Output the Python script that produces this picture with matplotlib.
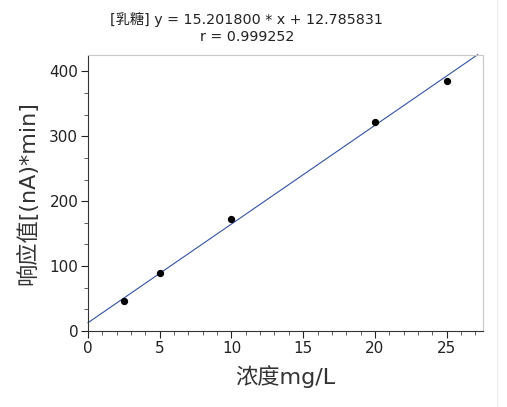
import numpy as np
import matplotlib
matplotlib.use('Agg')
import matplotlib.pyplot as plt
from matplotlib.ticker import MultipleLocator

plt.rcParams['font.family'] = ['DejaVu Sans', 'Noto Sans CJK SC']

# calibration data
conc = [2.5, 5, 10, 20, 25]
resp = [46.6, 88.7, 172.8, 322.0, 385.7]
slope = 15.201800
intercept = 12.785831
r_value = 0.999252

x_ticks = [0, 5, 10, 15, 20, 25]
y_ticks = [0, 100, 200, 300, 400]

fig = plt.figure(figsize=(5.07, 4.07), dpi=100)
ax = fig.add_axes([0.1736, 0.1867, 0.953 - 0.1736, 0.8656 - 0.1867])

xmax, ymax = 27.55, 425.7
# fitted line, clipped at the top of the plot
x_end = (ymax - intercept) / slope
xs = np.array([0, x_end])
ax.plot(xs, slope * xs + intercept, color='#3352a3', lw=0.8, clip_on=False)
ax.scatter(conc, resp, s=18, color='black', zorder=3)

ax.set_xlim(0, xmax)
ax.set_ylim(0, ymax)
ax.set_xticks(x_ticks)
ax.set_yticks(y_ticks)
ax.xaxis.set_minor_locator(MultipleLocator(1))
ax.yaxis.set_minor_locator(MultipleLocator(100 / 3))
ax.tick_params(which='major', length=5, width=0.8, labelsize=11, colors='#222222', pad=2)
ax.tick_params(which='minor', length=3, width=0.6, color='#444444')
for lab in ax.get_xticklabels() + ax.get_yticklabels():
    lab.set_family('DejaVu Sans')

for s in ['top', 'right']:
    ax.spines[s].set_color('#c8c8c8')
for s in ['left', 'bottom']:
    ax.spines[s].set_color('#333333')
    ax.spines[s].set_linewidth(0.8)

mixed = ['DejaVu Sans', 'Noto Sans CJK SC']
ax.set_xlabel('浓度mg/L', fontsize=16, color='#333333', family=mixed, labelpad=7)
ax.set_ylabel('响应值[(nA)*min]', fontsize=16, color='#333333', family=mixed, labelpad=8)

fig.text(247 / 507, 1 - 19 / 407, f'[乳糖] y = {slope:.6f} * x + {intercept:.6f}',
         ha='center', va='center', fontsize=10.3, family=mixed, color='#222222')
fig.text(247 / 507, 1 - 37 / 407, f'r = {r_value:.6f}',
         ha='center', va='center', fontsize=10.3, family=mixed, color='#222222')

fig.add_artist(plt.Line2D([497 / 507, 497 / 507], [0, 1], color='#eeeeee', lw=1))

fig.savefig('out.png', dpi=100)
